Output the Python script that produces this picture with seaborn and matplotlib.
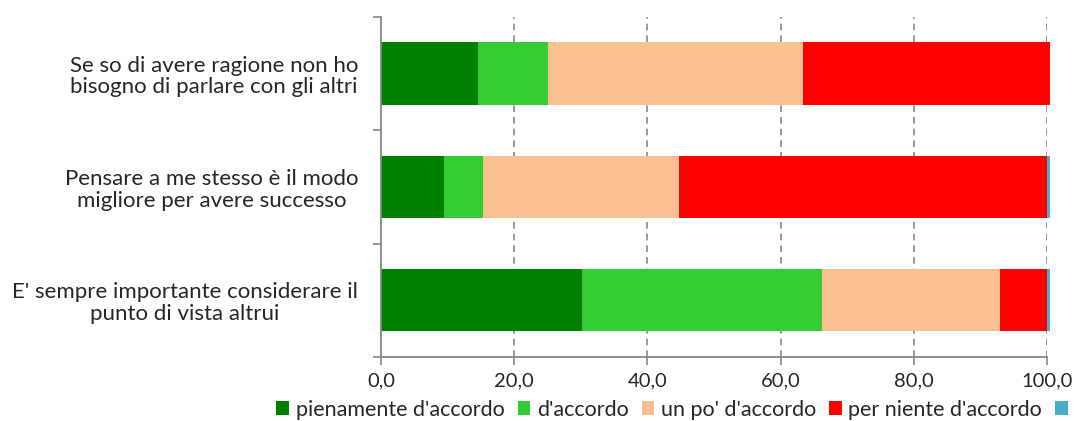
import numpy as np
import pandas as pd
import matplotlib
matplotlib.use("Agg")
import matplotlib.pyplot as plt
import seaborn as sns
from matplotlib.patches import Patch

statements = [
    "Se so di avere ragione non ho\nbisogno di parlare con gli altri",
    "Pensare a me stesso è il modo\nmigliore per avere successo",
    "E' sempre importante considerare il\npunto di vista altrui",
]
series_names = ["pienamente d'accordo", "d'accordo", "un po' d'accordo",
                "per niente d'accordo", ""]
pienamente = [14.6, 9.5, 30.2]
accordo = [10.5, 5.8, 36.0]
un_po = [38.3, 29.4, 26.7]
per_niente = [37.0, 55.3, 7.1]
non_risponde = [0.0, 0.45, 0.45]
colors = ["#008000", "#33CC33", "#FAC090", "#FF0000", "#4BACC6"]
xticks = [0, 20, 40, 60, 80, 100]

sns.set_style("white")
plt.rcParams["font.family"] = ["Lato", "DejaVu Sans"]

fig = plt.figure(figsize=(10.87, 4.21), dpi=100)
ax = fig.add_axes([381 / 1087, (421 - 357) / 421, (1047 - 381) / 1087, 340 / 421])

values = np.array([pienamente, accordo, un_po, per_niente, non_risponde])
cum = np.cumsum(values, axis=0)

# stacked bars: draw cumulative totals from the outermost segment inward
for i in range(len(series_names) - 1, -1, -1):
    df = pd.DataFrame({"statement": statements, "value": cum[i]})
    sns.barplot(data=df, x="value", y="statement", color=colors[i],
                saturation=1, width=0.55, orient="h", ax=ax, linewidth=0)

for p in ax.patches:
    p.set_clip_on(False)

ax.set_xlim(0, 100)
ax.set_ylim(2.5, -0.5)
ax.set_xlabel("")
ax.set_ylabel("")

ax.set_xticks(xticks)
ax.set_xticklabels([f"{v:.1f}".replace(".", ",") for v in xticks], fontsize=14.5)
ax.tick_params(axis="x", direction="out", length=6, color="#868686", width=1.2,
               pad=5, bottom=True)
ax.tick_params(axis="y", which="major", length=0, pad=16.5, labelsize=16)
for lbl in ax.get_yticklabels():
    lbl.set_multialignment("center")
    lbl.set_linespacing(1.1)
ax.set_yticks([-0.5, 0.5, 1.5, 2.5], minor=True)
ax.tick_params(axis="y", which="minor", direction="out", length=6,
               color="#868686", width=1.2, left=True)

# dashed vertical gridlines (not at zero)
for v in xticks[1:]:
    ax.axvline(v, color="#868686", linestyle=(0, (4, 3)), linewidth=1.2, zorder=0)

for s in ["top", "right"]:
    ax.spines[s].set_visible(False)
for s in ["left", "bottom"]:
    ax.spines[s].set_color("#868686")
    ax.spines[s].set_linewidth(1.3)

handles = [Patch(facecolor=c, edgecolor="none") for c in colors]
fig.legend(handles, series_names, loc="lower left", bbox_to_anchor=(270 / 1087, -0.012),
           ncol=5, frameon=False, fontsize=15.5, handlelength=0.6, handleheight=0.6,
           handletextpad=0.3, columnspacing=0.6, borderaxespad=0, borderpad=0.3)

fig.savefig("out.png", dpi=100)
